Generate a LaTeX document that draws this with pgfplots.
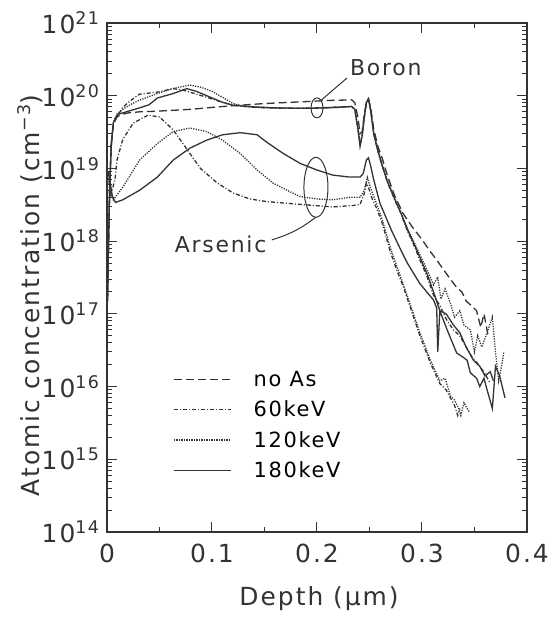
\documentclass[border=0pt]{standalone}
\usepackage{fontspec}
\setmainfont{DejaVu Sans}[LetterSpace=8]
\usepackage{pgfplots}
\pgfplotsset{compat=1.18}

\definecolor{ink}{gray}{0.2}

\begin{document}
\begin{tikzpicture}
\begin{axis}[
    scale only axis, width=420bp, height=509bp,
    xmin=0, xmax=0.4, ymode=log, ymin=1e14, ymax=1e21,
    xtick={0,0.1,0.2,0.3,0.4}, xticklabels={0,0.1,0.2,0.3,0.4},
    minor xtick={0.05,0.15,0.25,0.35},
    ytick={1e14,1e15,1e16,1e17,1e18,1e19,1e20,1e21},
    yticklabels={10\textsuperscript{14},10\textsuperscript{15},10\textsuperscript{16},10\textsuperscript{17},10\textsuperscript{18},10\textsuperscript{19},10\textsuperscript{20},10\textsuperscript{21}},
    minor ytick={2e14,3e14,4e14,5e14,6e14,7e14,8e14,9e14,
                 2e15,3e15,4e15,5e15,6e15,7e15,8e15,9e15,
                 2e16,3e16,4e16,5e16,6e16,7e16,8e16,9e16,
                 2e17,3e17,4e17,5e17,6e17,7e17,8e17,9e17,
                 2e18,3e18,4e18,5e18,6e18,7e18,8e18,9e18,
                 2e19,3e19,4e19,5e19,6e19,7e19,8e19,9e19,
                 2e20,3e20,4e20,5e20,6e20,7e20,8e20,9e20},
    tick align=inside, tick pos=both,
    major tick length=10bp, minor tick length=5bp,
    every tick/.style={ink, line width=1bp},
    axis line style={ink, line width=1.3bp},
    tick label style={font=\fontsize{25}{30}\selectfont, ink},
    xticklabel style={yshift=-9bp},
    yticklabel style={xshift=-4bp},
    label style={font=\fontsize{25}{30}\selectfont, ink},
    xlabel={Depth (μm)}, ylabel={Atomic concentration (cm\textsuperscript{−3})},
    xlabel style={at={(axis description cs:0.505,-0.13)}, anchor=center},
    ylabel style={at={(axis description cs:-0.183,0.465)}, anchor=center},
    legend style={at={(axis cs:0.063,1.75e16)}, anchor=north west, draw=none, fill=none,
        font=\fontsize{21}{24}\selectfont, inner sep=0pt, row sep=9bp,
        /tikz/every odd column/.append style={column sep=20bp}},
    legend cell align=left,
    legend image code/.code={\draw[#1] (0bp,0bp) -- (57bp,0bp);},
    every axis plot/.append style={ink, line width=1.3bp},
]
% boron, no As
\addplot[dash pattern=on 8bp off 4bp] coordinates {
(0.0005,1.5e17) (0.0015,1e18) (0.0025,5e18) (0.004,2e19) (0.006,4e19) (0.009,5e19)
(0.013,5.5e19) (0.02,5.8e19) (0.031,6.0e19) (0.045,6.1e19) (0.063,6.3e19) (0.08,6.5e19)
(0.095,6.8e19) (0.11,7.1e19) (0.127,7.4e19) (0.15,7.8e19) (0.174,8.1e19) (0.19,8.3e19)
(0.21,8.6e19) (0.225,8.7e19) (0.233,8.8e19) (0.236,8.0e19) (0.239,5e19) (0.241,3.0e19)
(0.243,3.2e19) (0.245,5.5e19) (0.247,8e19) (0.249,9e19) (0.251,7e19) (0.254,3.5e19)
(0.258,2e19) (0.262,1.4e19) (0.267,8e18) (0.274,4.2e18) (0.282,2.4e18) (0.291,1.55e18)
(0.300,1.05e18) (0.307,7.5e17) (0.314,5.5e17) (0.323,3.6e17) (0.333,2.3e17) (0.338,2.0e17)
(0.342,1.5e17) (0.347,1.3e17) (0.352,1.1e17) (0.356,6.5e16) (0.359,1.0e17) (0.363,5e16)
};
\addlegendentry{no As}
% boron, 60 keV
\addplot[dash pattern=on 4bp off 2bp on 1bp off 2bp] coordinates {
(0.0005,1.5e17) (0.0015,1e18) (0.0025,5e18) (0.004,2.2e19) (0.006,4.2e19) (0.0095,5.1e19)
(0.015,6.9e19) (0.022,8.5e19) (0.031,1.05e20) (0.048,1.12e20) (0.063,1.25e20) (0.072,1.2e20)
(0.079,1.12e20) (0.095,9.5e19) (0.11,8.1e19) (0.12,7.4e19) (0.135,7.0e19) (0.15,6.8e19)
(0.175,6.7e19) (0.2,6.8e19) (0.22,7.0e19) (0.233,7.1e19) (0.236,6.5e19) (0.239,3.5e19)
(0.241,2.3e19) (0.243,2.8e19) (0.245,5e19) (0.247,8e19) (0.249,9e19) (0.251,6.5e19)
(0.254,3e19) (0.258,1.7e19) (0.262,1.1e19) (0.267,6.5e18) (0.274,3.7e18) (0.28,2.4e18)
(0.286,1.4e18) (0.292,9e17) (0.298,5.5e17) (0.305,3.2e17) (0.311,1.8e17) (0.317,1.3e17)
(0.324,8e16) (0.33,6e16) (0.336,5e16) (0.342,3.5e16) (0.348,2.5e16) (0.354,2e16)
(0.36,1.5e16) (0.365,1.1e16)
};
\addlegendentry{60keV}
% boron, 120 keV
\addplot[dash pattern=on 1.2bp off 1.3bp] coordinates {
(0.0005,1.5e17) (0.0015,1e18) (0.0025,5e18) (0.004,2.2e19) (0.006,4.3e19) (0.0095,5.6e19)
(0.015,6.5e19) (0.022,7.5e19) (0.031,8.7e19) (0.048,1.07e20) (0.063,1.26e20) (0.079,1.4e20)
(0.09,1.3e20) (0.1,1.15e20) (0.11,9.5e19) (0.12,7.8e19) (0.13,7.2e19) (0.15,6.9e19)
(0.175,6.7e19) (0.2,6.8e19) (0.22,6.9e19) (0.233,7.1e19) (0.236,6.5e19) (0.239,3.5e19)
(0.241,2.2e19) (0.243,2.8e19) (0.245,5e19) (0.247,8e19) (0.249,9e19) (0.251,6.5e19)
(0.254,3.1e19) (0.258,1.8e19) (0.262,1.15e19) (0.267,6.8e18) (0.274,3.9e18) (0.28,2.5e18)
(0.286,1.5e18) (0.292,1e18) (0.298,6.5e17) (0.305,4e17) (0.311,2.5e17) (0.315,3.2e17)
(0.318,1.6e17) (0.322,2.2e17) (0.327,1.4e17) (0.331,9e16) (0.336,1.1e17) (0.340,7e16)
(0.346,6e16) (0.350,3e16) (0.353,5e16) (0.357,3.5e16) (0.362,5.5e16) (0.367,9e16)
(0.370,3e16) (0.373,1.2e16) (0.376,2e16) (0.378,3e16)
};
\addlegendentry{120keV}
% boron, 180 keV
\addplot[solid] coordinates {
(0.0005,1.5e17) (0.0015,1e18) (0.0025,5e18) (0.004,2e19) (0.006,4.2e19) (0.01,5.5e19)
(0.015,5.8e19) (0.031,6.8e19) (0.04,7.5e19) (0.048,9.3e19) (0.063,1.07e20) (0.076,1.25e20)
(0.085,1.15e20) (0.095,1.0e20) (0.11,8.1e19) (0.12,7.4e19) (0.14,7e19) (0.16,6.8e19)
(0.19,6.7e19) (0.21,6.8e19) (0.233,7.1e19) (0.236,6.5e19) (0.239,3.5e19) (0.241,2.0e19)
(0.243,2.8e19) (0.245,5e19) (0.247,8e19) (0.249,9e19) (0.251,6.5e19) (0.254,3e19)
(0.258,1.75e19) (0.262,1.1e19) (0.267,6.6e18) (0.274,3.8e18) (0.28,2.4e18) (0.286,1.45e18)
(0.292,9.5e17) (0.298,6e17) (0.305,3.5e17) (0.311,2e17) (0.317,1.1e17) (0.323,1e17)
(0.33,7e16) (0.336,5.5e16) (0.342,3.5e16) (0.349,2.3e16) (0.355,1.9e16) (0.36,1.4e16)
(0.365,1.6e16) (0.368,1.2e16)
};
\addlegendentry{180keV}
% arsenic, 60 keV
\addplot[dash pattern=on 4bp off 2bp on 1bp off 2bp, forget plot] coordinates {
(0.0015,9e18) (0.003,4e18) (0.0076,7e18) (0.0095,1.3e19) (0.015,2.5e19) (0.025,4.2e19)
(0.039,5.4e19) (0.05,5.1e19) (0.063,3.4e19) (0.079,1.6e19) (0.089,1.0e19) (0.105,6.3e18)
(0.12,4.6e18) (0.136,3.8e18) (0.152,3.5e18) (0.184,3.2e18) (0.215,2.95e18) (0.235,3.1e18)
(0.241,3.2e18) (0.245,4.5e18) (0.247,6.3e18) (0.249,5.5e18) (0.252,4e18) (0.256,3e18)
(0.262,1.8e18) (0.27,7e17) (0.276,4e17) (0.282,2.4e17) (0.29,1.1e17) (0.298,5e16)
(0.308,2.1e16) (0.317,1.1e16) (0.323,9e15) (0.327,7e15) (0.331,5.5e15) (0.334,4e15)
(0.336,5e15)
};
% arsenic, 120 keV
\addplot[dash pattern=on 1.2bp off 1.3bp, forget plot] coordinates {
(0.0015,8e18) (0.003,4.5e18) (0.006,3.7e18) (0.015,5.5e18) (0.031,1.3e19) (0.048,2.2e19)
(0.063,3.2e19) (0.079,3.6e19) (0.095,3.2e19) (0.11,2.45e19) (0.127,1.6e19) (0.143,9.5e18)
(0.158,6.3e18) (0.174,4.8e18) (0.184,4.1e18) (0.2,3.8e18) (0.215,3.7e18) (0.231,4e18)
(0.241,4e18) (0.245,5e18) (0.248,7.5e18) (0.25,6e18) (0.253,4.5e18) (0.257,3.2e18)
(0.262,2e18) (0.27,8e17) (0.276,4.5e17) (0.282,2.6e17) (0.29,1.2e17) (0.298,5.5e16)
(0.308,2.3e16) (0.317,1.2e16) (0.322,1.3e16) (0.327,7.5e15) (0.331,6.5e15) (0.335,5e15)
(0.337,4e15) (0.34,6e15) (0.343,5e15) (0.345,4.5e15)
};
% arsenic, 180 keV
\addplot[solid, forget plot] coordinates {
(0.0015,9e18) (0.005,4.2e18) (0.008,3.4e18) (0.015,3.7e18) (0.031,5e18) (0.048,7.6e18)
(0.063,1.3e19) (0.079,1.9e19) (0.095,2.45e19) (0.11,2.9e19) (0.127,3.1e19) (0.143,2.9e19)
(0.152,2.3e19) (0.168,1.6e19) (0.184,1.17e19) (0.2,9.5e18) (0.215,8.1e18) (0.231,7.6e18)
(0.241,7.6e18) (0.244,8.5e18) (0.247,1.3e19) (0.249,1.4e19) (0.251,1.1e19) (0.254,7e18)
(0.26,3.3e18) (0.271,1.4e18) (0.279,8e17) (0.286,5e17) (0.298,2.6e17) (0.311,1.55e17)
(0.314,1.2e17) (0.315,3e16) (0.317,1.1e17) (0.324,6e16) (0.333,2.9e16) (0.338,2.6e16)
(0.343,2.3e16) (0.346,1.55e16) (0.352,1.3e16) (0.355,1e16) (0.359,1.3e16) (0.362,9e15)
(0.367,5e15) (0.370,1.9e16) (0.374,1.4e16) (0.379,7e15)
};
% annotations
\draw[ink, line width=1bp] (axis cs:0.2,6.8e19) ellipse [x radius=6bp, y radius=10bp];
\draw[ink, line width=1bp] (axis cs:0.204,8.7e19) -- (axis cs:0.2286,1.75e20);
\node[anchor=west, inner sep=0pt, ink, font=\fontsize{22}{26}\selectfont] at (axis cs:0.2314,2.4e20) {Boron};
\draw[ink, line width=1bp] (axis cs:0.199,5.5e18) ellipse [x radius=12bp, y radius=30bp];
\draw[ink, line width=1bp] (axis cs:0.199,2.14e18) to[bend left=10] (axis cs:0.157,1.04e18);
\node[anchor=east, inner sep=0pt, ink, font=\fontsize{22}{26}\selectfont] at (axis cs:0.152,8.9e17) {Arsenic};
\end{axis}
\path[use as bounding box] ([shift={(-107bp,-85bp)}]current axis.south west) rectangle ([shift={(18bp,23bp)}]current axis.north east);
\end{tikzpicture}
\end{document}
